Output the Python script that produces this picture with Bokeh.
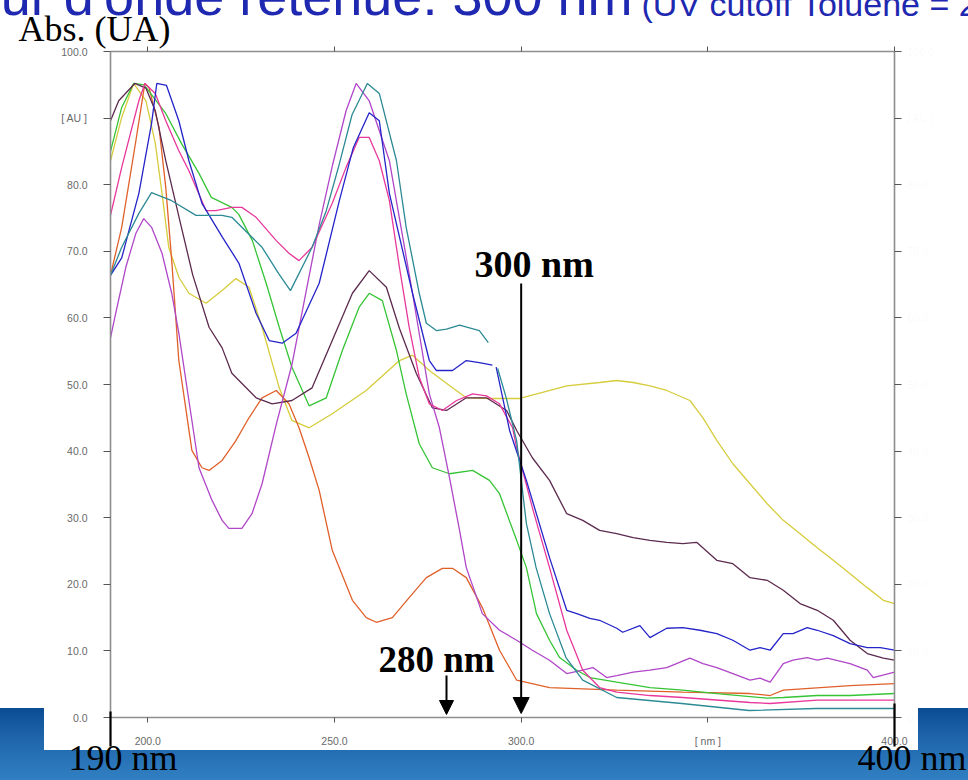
import math
from bokeh.plotting import figure
from bokeh.models import LinearAxis, FixedTicker, Range1d, Arrow, NormalHead
from bokeh.core.properties import value
from bokeh.embed import file_html
from bokeh.resources import INLINE

NAN = math.nan

# ---- UV spectra (wavelength in nm, absorbance in AU) ----
yellow_nm = [190, 193, 196.2, 199.5, 202, 203.8, 205.6, 208.3, 211, 215.6, 219.9, 223.6, 227.1, 230.6,
             235.2, 238.6, 243.2, 249.4, 258.5, 267.4, 270.9, 275.4, 281.6, 285.3, 292, 299.6, 305.7,
             312.2, 321, 325.6, 330, 334.5, 339, 345.2, 348.7, 352.4, 356.7, 361.3, 365.9, 370.2,
             374.7, 379.3, 383.6, 388.1, 392.7, 397, 400]
yellow_au = [83.6, 90.1, 95.2, 92.6, 86.2, 78.7, 70.6, 66.1, 63.7, 62.2, 64.1, 65.9, 64.6, 58.6,
             49.5, 44.6, 43.5, 45.6, 49.1, 53.6, 54.4, 52.1, 49.5, 48.0, 47.9, 47.9, 48.8,
             49.8, 50.3, 50.6, 50.3, 49.8, 49.1, 47.6, 45.0, 41.6, 38.1, 35.1, 32.1, 29.6,
             27.6, 25.5, 23.6, 21.6, 19.5, 17.6, 17.1]

green_nm = [190, 193, 196.2, 199, 204.8, 209, 213.7, 217, 219.9, 222.5, 224.4, 228, 231.7, 235.2,
            238.6, 243.2, 247.8, 252.1, 256.6, 259.3, 262.8, 266.6, 269.2, 272.7, 276.2, 280.8,
            287, 291.5, 294.2, 298.8, 301.4, 304.1, 307.6, 310.3, 314.9, 318.4, 325.6, 334.5,
            343.3, 352.4, 365.9, 370.2, 379.3, 388.1, 400]
green_au = [85.0, 91.6, 95.2, 95.0, 90.7, 86.2, 81.7, 78.1, 77.3, 76.6, 75.5, 71.6, 65.2, 58.6,
            52.6, 46.8, 48.0, 55.1, 61.6, 63.7, 62.6, 55.1, 48.6, 41.1, 37.5, 36.6,
            37.1, 35.6, 33.6, 26.6, 22.5, 15.6, 11.6, 9.0, 7.1, 6.0, 5.3, 4.5,
            4.1, 3.6, 2.9, 3.0, 3.3, 3.3, 3.6]

pink_nm = [190, 193, 197.6, 199.2, 202, 204.8, 208.3, 211, 215.6, 218.2, 222.5, 225.2, 229, 234.4,
           237.8, 240.5, 244, 249.4, 253.1, 256.6, 259.3, 262, 264.7, 267.4, 270, 272.7, 275.4,
           278.9, 282.7, 287, 290.7, 294.2, 297.7, 298.8, 303, 307.6, 312.2, 316.5, 321, 325.6,
           334.5, 343.3, 361.3, 366.7, 379.3, 400]
pink_au = [75.4, 82.6, 92.6, 95.2, 93.7, 89.6, 85.1, 82.1, 76.1, 76.1, 76.6, 76.6, 75.1, 71.6,
           69.7, 68.6, 70.6, 77.2, 82.6, 87.1, 87.1, 83.6, 77.6, 67.6, 58.6, 51.1, 47.1,
           46.1, 47.6, 48.6, 48.3, 47.1, 43.5, 40.5, 31.5, 22.5, 13.1, 7.1, 4.5, 3.8,
           3.3, 3.0, 2.25, 2.1, 2.6, 2.6]

violet_nm = [190, 191.4, 194.1, 196.8, 198.9, 201, 203.8, 206.4, 208.3, 211, 213.7, 217.2, 219.9,
             221.7, 225.2, 227.9, 230.6, 234.4, 238.6, 242.4, 245.9, 249.5, 253.1, 255.8, 259.3,
             264.7, 270.9, 275.4, 278.1, 280.8, 283.5, 285.3, 289.6, 294.2, 298.8, 303, 307.6,
             312.2, 316.5, 319.2, 322.9, 325.6, 330, 334.5, 339, 345.2, 348.7, 352.4, 356.7,
             361.3, 364, 366.7, 370.2, 372.8, 376.6, 379.3, 382, 388.1, 392.7, 394.3, 400]
violet_au = [57.0, 60.7, 67.6, 72.7, 74.9, 73.6, 69.7, 63.7, 57.7, 47.6, 37.5, 32.6, 29.6,
             28.4, 28.4, 30.6, 35.1, 44.0, 53.0, 64.0, 74.0, 83.0, 91.1, 95.2, 92.6,
             83.6, 63.7, 48.6, 43.5, 36.0, 28.1, 22.5, 15.6, 13.1, 11.6, 10.1, 8.6,
             6.6, 7.1, 7.5, 6.0, 6.3, 6.8, 7.1, 7.5, 8.9, 8.1, 7.5, 6.6,
             5.6, 5.9, 5.3, 8.1, 8.6, 9.0, 8.6, 8.9, 8.1, 7.1, 6.0, 6.8]

teal_nm = [190, 193, 197.6, 201, 206.4, 212.9, 219.9, 222.5, 230.6, 235, 238.2, 244, 247.8, 251,
           254.7, 258.8, 262, 266.6, 269.2, 272.7, 274.6, 277.3, 280, 283.5, 288.8, 291.2, NAN,
           293.7, 296, 298.8, 301.4, 304, 307.6, 312, 316.5, 325.6, 343, 361, 379, 400]
teal_au = [66.4, 70.6, 75.7, 78.8, 77.6, 75.4, 75.4, 75.1, 70.6, 66.7, 64.1, 70.6, 76.1, 82.5,
           90.5, 95.2, 93.7, 83.6, 73.6, 63.7, 59.2, 58.1, 58.3, 58.9, 58.1, 56.3, NAN,
           52.4, 48.0, 41.5, 29.1, 22.5, 15.6, 9.0, 5.6, 3.0, 2.1, 1.05, 1.35, 1.35]

blue_nm = [190, 193, 197.6, 201, 202.4, 205, 208.3, 211, 214.5, 220, 224.4, 229, 232.5, 236,
           239.7, 245.9, 251.3, 255, 259.3, 262, 264.7, 270.9, 275.4, 277.3, 281.6, 285.3, 288.8,
           292.3, NAN, 293.3, 296.9, 301.4, 307.6, 312.2, 314.9, 318.4, 321, 325.6, 327.2, 331.8,
           334.5, 339, 343.3, 347.9, 352.4, 356.7, 361.3, 364, 366.7, 370.2, 372.8, 376.6, 379.3,
           383.6, 388.1, 392.7, 396.2, 400]
blue_au = [66.4, 69.0, 78.7, 89.2, 95.2, 94.9, 89.6, 83.6, 77.2, 72.1, 68.2, 60.7, 56.6, 56.2,
           57.7, 65.2, 77.6, 85.5, 90.8, 89.6, 78.7, 63.7, 53.6, 52.1, 52.1, 53.6, 53.3,
           52.9, NAN, 52.6, 43.1, 35.6, 24.0, 16.1, 15.6, 14.9, 14.6, 13.4, 12.8, 13.8,
           12.0, 13.4, 13.5, 13.1, 12.6, 11.6, 10.1, 10.5, 10.1, 12.6, 12.6, 13.5, 13.1,
           12.3, 11.1, 10.5, 10.5, 10.1]

plum_nm = [190, 192.2, 196.5, 199.5, 202, 204.8, 209, 212, 216.4, 219.9, 222.5, 229, 233.3, 238.6,
           244, 249.4, 254.8, 259.3, 263.9, 267.4, 271.9, 276.2, 280, 285.3, 290.7, 296.1, 298.8,
           303, 307.6, 312.2, 316.5, 321, 325.6, 330, 334.5, 339, 343.3, 347, 352.4, 356.7, 361.3,
           365.9, 370.2, 374.7, 379.3, 383.6, 388.1, 392.7, 397, 400]
plum_au = [89.6, 92.6, 95.2, 94.5, 91.1, 83.6, 73.6, 66.5, 58.6, 55.5, 51.7, 48.0, 47.1, 47.6,
           49.5, 56.6, 63.7, 67.1, 64.6, 58.4, 51.7, 46.5, 46.1, 48.0, 48.0, 46.1, 43.1,
           39.0, 35.6, 30.6, 29.6, 28.1, 27.6, 27.0, 26.6, 26.3, 26.1, 26.3, 23.6, 23.1, 21.0,
           20.6, 19.1, 17.1, 16.1, 14.6, 11.6, 9.6, 8.9, 8.6]

orange_nm = [190, 193, 196.8, 199.2, 200.3, 203, 204.8, 206.4, 208.3, 211.8, 214.5, 216.4, 219.9,
             223.5, 227.1, 230.6, 234.4, 237.8, 240.5, 243.2, 245.9, 249.4, 254.8, 258.5, 261.2,
             265.5, 270, 274.6, 278.9, 281.6, 285.3, 289.6, 294.2, 298.8, 307.6, 325.6, 343.3,
             361.3, 366.7, 370.2, 388.1, 400]
orange_au = [66.4, 73.6, 86.6, 95.2, 94.6, 88.6, 79.6, 68.6, 53.6, 40.1, 37.5, 37.1, 38.6,
             41.5, 45.0, 48.0, 49.1, 47.1, 43.5, 39.0, 34.1, 25.1, 17.6, 15.0, 14.3,
             15.0, 18.0, 21.0, 22.4, 22.4, 21.0, 16.5, 10.1, 5.6, 4.5, 4.1, 3.8,
             3.6, 3.3, 4.1, 4.8, 5.1]

series = [
    (yellow_nm, yellow_au, "#d6cc3c"),
    (orange_nm, orange_au, "#e0602a"),
    (green_nm, green_au, "#36c436"),
    (plum_nm, plum_au, "#5c2a4e"),
    (violet_nm, violet_au, "#b046c8"),
    (pink_nm, pink_au, "#e8389c"),
    (blue_nm, blue_au, "#2424c8"),
    (teal_nm, teal_au, "#2c8a94"),
]

# axis ticks and their texts
y_ticks = [0, 10, 20, 30, 40, 50, 60, 70, 80, 90, 100]
y_tick_text = ["0.0", "10.0", "20.0", "30.0", "40.0", "50.0", "60.0", "70.0", "80.0", "[ AU ]", "100.0"]
x_ticks = [200, 250, 300, 350, 400]
x_tick_text = ["200.0", "250.0", "300.0", "[ nm ]", "400.0"]

# ---- page geometry (pixels) ----
W, H = 968, 780
FL, FR, FT, FB = 110, 894, 51, 717
X0, X1 = 190, 400
Y0, Y1 = 0, 100


def sx(px):
    return X0 + (px - FL) * (X1 - X0) / (FR - FL)


def sy(py):
    return Y0 + (FB - py) * (Y1 - Y0) / (FB - FT)


slide_bg = ("linear-gradient(#ffffff, #ffffff) 44px 0px / 874px 750px no-repeat, "
            "linear-gradient(180deg, #ffffff 0px, #ffffff 708px, #0b4c93 708px, "
            "#1d63aa 735px, #3180c2 780px)")

p = figure(width=W, height=H, x_range=Range1d(X0, X1), y_range=Range1d(Y0, Y1),
           output_backend="svg", toolbar_location=None,
           x_axis_location=None, y_axis_location=None,
           min_border_left=FL, min_border_right=W - FR,
           min_border_top=FT, min_border_bottom=H - FB,
           styles={"background": slide_bg})
p.border_fill_color = None
p.background_fill_color = "white"
p.outline_line_color = None
for g in p.grid:
    g.visible = False

AXIS_GREY = "#8e8e8e"
TICK_FONT = "Liberation Sans"


def style_axis(ax, show_labels=True, label_alpha=1.0):
    ax.axis_line_color = AXIS_GREY
    ax.axis_line_width = 1.6
    ax.major_tick_line_color = "#555555"
    ax.major_tick_in = 0
    ax.major_tick_out = 7
    ax.minor_tick_line_color = None
    ax.major_label_text_font = TICK_FONT
    ax.major_label_text_font_size = "10.5px"
    ax.major_label_text_color = "#6a6a6a" if show_labels else None
    ax.major_label_text_alpha = label_alpha


left = LinearAxis(ticker=FixedTicker(ticks=y_ticks),
                  major_label_overrides=dict(zip(y_ticks, y_tick_text)))
style_axis(left)
left.major_label_standoff = 16
p.add_layout(left, "left")

right = LinearAxis(ticker=FixedTicker(ticks=y_ticks),
                   major_label_overrides=dict(zip(y_ticks, y_tick_text)))
style_axis(right, label_alpha=0.05)
right.major_label_standoff = 6
p.add_layout(right, "right")

below = LinearAxis(ticker=FixedTicker(ticks=x_ticks),
                   major_label_overrides=dict(zip(x_ticks, x_tick_text)))
style_axis(below)
below.major_tick_out = 5
below.major_label_standoff = 12
p.add_layout(below, "below")

above = LinearAxis(ticker=FixedTicker(ticks=x_ticks))
style_axis(above, show_labels=False)
above.major_tick_out = 5
p.add_layout(above, "above")

for nm, au, color in series:
    p.line(nm, au, line_color=color, line_width=1.3)


# ---- page texts: overlay-level glyphs, so they may sit outside the plot area ----
def page_text(px, base_py, text, font, size_px, color="black", align="left", style="normal"):
    # the rendered alphabetic baseline lands about 0.43 em below the anchor
    anchor = base_py - 0.43 * size_px
    p.text(x=[sx(px)], y=[sy(anchor)], text=[text], text_align=value(align),
           text_baseline=value("alphabetic"), text_font=value(font),
           text_font_size=value(f"{size_px}px"), text_font_style=value(style),
           text_color=color, level="overlay")


BLUE = "#1f28b0"
page_text(632, 19, "Longueur d'onde retenue: 300 nm", "Liberation Sans", 54, BLUE, align="right")
page_text(641, 18, "(UV cutoff Toluène = 285 nm)", "Liberation Sans", 34, BLUE)
page_text(18, 44, "Abs. (UA)", "Liberation Serif", 36)
page_text(68, 773, "190 nm", "Liberation Serif", 36)
page_text(966, 773, "400 nm", "Liberation Serif", 36, align="right")

# wavelength call-outs
page_text(474, 280, "300 nm", "Liberation Serif", 38, style="bold")
page_text(378, 675, "280 nm", "Liberation Serif", 37, style="bold")

# markers under the 190 nm / 400 nm limits
p.segment(x0=[X0, X1], y0=[sy(711), sy(703)], x1=[X0, X1], y1=[sy(746), sy(746)],
          line_color="black", line_width=2.2, level="overlay")

p.add_layout(Arrow(end=NormalHead(size=16, fill_color="black", line_color="black"),
                   x_start=300, y_start=sy(283), x_end=300, y_end=sy(713),
                   line_color="black", line_width=2))
p.add_layout(Arrow(end=NormalHead(size=14, fill_color="black", line_color="black"),
                   x_start=280, y_start=sy(675), x_end=280, y_end=sy(714),
                   line_color="black", line_width=2))

open("out.html", "w").write(file_html(p, INLINE))
